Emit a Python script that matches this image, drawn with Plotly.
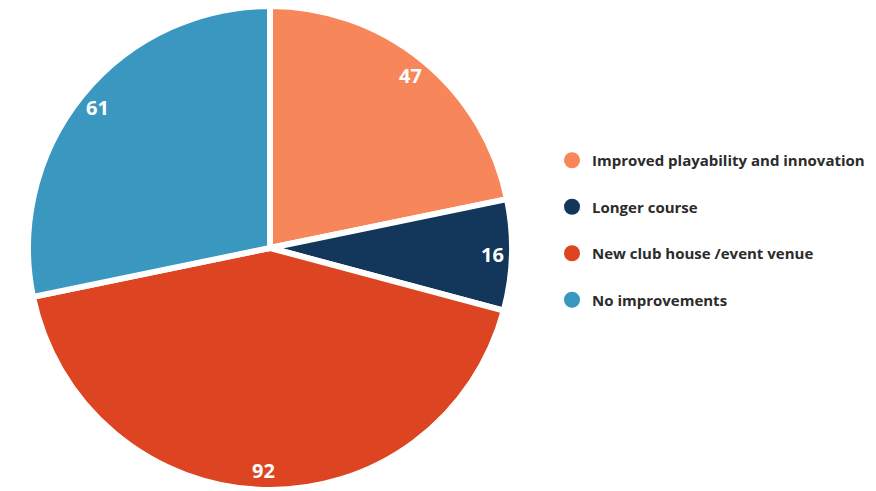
import math
import plotly.graph_objects as go

labels = ["Improved playability and innovation", "Longer course",
          "New club house /event venue", "No improvements"]
values = [47, 16, 92, 61]
colors = ["#F7875A", "#12375A", "#DC4422", "#3A97C0"]

W, H = 876, 491
cx, cy, R = 270, 248, 242  # pie centre and radius in pixels

fig = go.Figure()
fig.add_trace(go.Pie(
    labels=labels, values=values, sort=False, direction="clockwise",
    rotation=0, textinfo="none", hoverinfo="label+value",
    marker=dict(colors=colors, line=dict(color="white", width=6)),
    domain=dict(x=[max(0, (cx - R) / W), min(1, (cx + R) / W)],
                y=[max(0, 1 - (cy + R) / H), min(1, 1 - (cy - R) / H)]),
    showlegend=False,
))

# legend entries with round swatches
for lab, col in zip(labels, colors):
    fig.add_trace(go.Scatter(
        x=[None], y=[None], mode="markers", name=lab,
        marker=dict(color=col, size=16, symbol="circle"),
        legendgroup=lab,
    ))

# value labels near the rim of each slice
total = sum(values)
start = 0.0
for v in values:
    mid = (start + v / 2) / total * 2 * math.pi
    r = 0.92 * R
    px = cx + r * math.sin(mid)
    py = cy - r * math.cos(mid)
    fig.add_annotation(
        x=px / W, y=1 - py / H, xref="paper", yref="paper",
        xanchor="center", yanchor="middle",
        text=f"<b>{v}</b>", showarrow=False,
        font=dict(family="Open Sans", size=20, color="white"),
    )
    start += v

fig.update_layout(
    width=W, height=H, margin=dict(l=0, r=0, t=0, b=0),
    paper_bgcolor="white", plot_bgcolor="white",
    xaxis=dict(visible=False), yaxis=dict(visible=False),
    legend=dict(
        x=552 / W, y=1 - 144 / H, xanchor="left", yanchor="top",
        font=dict(family="Open Sans", size=15, color="#2b2b2b", weight="bold"),
        tracegroupgap=24, itemwidth=30,
    ),
)

fig.write_html("out.html")
